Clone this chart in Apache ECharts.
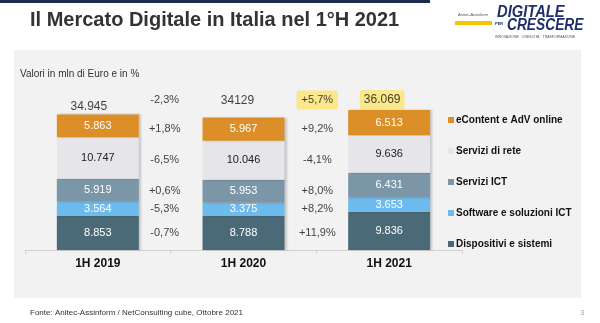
<!DOCTYPE html>
<html>
<head>
<meta charset="utf-8">
<script src="https://cdn.jsdelivr.net/npm/echarts@6/dist/echarts.min.js"></script>
<style>
  html, body { margin: 0; padding: 0; background: #ffffff; }
  #chart { width: 600px; height: 323px; }
</style>
</head>
<body>
<div id="chart"></div>
<script>
// Periods on the x axis
const periods = ['1H 2019', '1H 2020', '1H 2021'];

// Market segments, values in mln di Euro (stack order: bottom to top)
const dispositivi = [8853, 8788, 9836];
const software = [3564, 3375, 3653];
const serviziICT = [5919, 5953, 6431];
const serviziRete = [10747, 10046, 9636];
const eContent = [5863, 5967, 6513];

// Totals shown above each bar
const totalLabels = ['34.945', '34129', '36.069'];

// Year-on-year changes, top to bottom: total, eContent, rete, ICT, software, dispositivi
const change2020 = ['-2,3%', '+1,8%', '-6,5%', '+0,6%', '-5,3%', '-0,7%'];
const change2021 = ['+5,7%', '+9,2%', '-4,1%', '+8,0%', '+8,2%', '+11,9%'];

const seriesNames = ['Dispositivi e sistemi', 'Software e soluzioni ICT', 'Servizi ICT', 'Servizi di rete', 'eContent e AdV online'];
const seriesData = [dispositivi, software, serviziICT, serviziRete, eContent];
const colors = ['#4b6a77', '#6dbaec', '#7b96a7', '#e6e5ea', '#dc8f28'];
const labelColors = ['#ffffff', '#ffffff', '#ffffff', '#222222', '#ffffff'];

const fmt = v => {
  const s = String(v);
  return s.length > 3 ? s.slice(0, s.length - 3) + '.' + s.slice(s.length - 3) : s;
};

const totals = periods.map((_, i) => seriesData.reduce((a, s) => a + s[i], 0));

// Vertical anchors for the change labels: segment centres of the middle bar
function segmentCentres(i) {
  const out = [];
  let base = 0;
  seriesData.forEach(s => { out.push(base + s[i] / 2); base += s[i]; });
  return out.reverse(); // top to bottom
}
const mid = segmentCentres(1);
const changeY = [Math.max.apply(null, totals) + 2600].concat(mid);

const FONT = 'Liberation Sans, Arial, sans-serif';
const HIGHLIGHT = '#fde372';

const barSeries = seriesNames.map((name, k) => ({
  name,
  type: 'bar',
  stack: 'mercato',
  barWidth: 82,
  data: seriesData[k],
  itemStyle: {
    color: colors[k],
    shadowColor: 'rgba(0,0,0,0.18)',
    shadowOffsetX: 2,
    shadowBlur: 2
  },
  label: {
    show: true,
    position: 'inside',
    formatter: p => fmt(p.value),
    color: labelColors[k],
    fontSize: 11,
    fontFamily: FONT
  }
}));

// Totals above the bars
const totalStyle = [
  { distance: 2, offset: [-9, 0], box: false },
  { distance: 11, offset: [-6, 0], box: false },
  { distance: 0, offset: [-7, 0], box: true }
];
const totalSeries = {
  type: 'scatter',
  xAxisIndex: 0,
  symbolSize: 0,
  data: totals.map((t, i) => ({
    value: [periods[i], t],
    label: {
      show: true,
      formatter: totalLabels[i],
      position: 'top',
      distance: totalStyle[i].distance,
      offset: totalStyle[i].offset,
      color: '#111',
      fontSize: 12,
      fontFamily: FONT,
      backgroundColor: totalStyle[i].box ? HIGHLIGHT : 'transparent',
      borderRadius: 3,
      padding: totalStyle[i].box ? [4, 4, 4, 4] : 0
    }
  })),
  silent: true,
  z: 5
};

function changeSeries(labels, x, dx, boxFirst) {
  return {
    type: 'scatter',
    xAxisIndex: 1,
    symbolSize: 0,
    silent: true,
    data: labels.map((t, i) => ({
      value: [x, changeY[i]],
      label: {
        show: true,
        formatter: t,
        position: 'inside',
        offset: [dx, 0],
        color: '#111',
        fontSize: 11,
        fontFamily: FONT,
        backgroundColor: (boxFirst && i === 0) ? HIGHLIGHT : 'transparent',
        borderRadius: 3,
        padding: (boxFirst && i === 0) ? [4, 5, 4, 5] : 0
      }
    })),
    z: 5
  };
}

const chart = echarts.init(document.getElementById('chart'), null, { renderer: 'canvas' });

chart.setOption({
  animation: false,
  backgroundColor: '#ffffff',
  textStyle: { fontFamily: FONT },
  graphic: [
    { type: 'rect', shape: { x: 0, y: 0, width: 430, height: 3 }, style: { fill: '#1d2b4f' }, z: -10 },
    { type: 'rect', shape: { x: 14, y: 50, width: 567, height: 248 }, style: { fill: '#f2f2f2' }, z: -10 },
    { type: 'text', left: 30, top: 10, style: { text: 'Il Mercato Digitale in Italia nel 1°H 2021', fill: '#333333', font: 'bold 20px ' + FONT } },
    { type: 'text', left: 20, top: 69, style: { text: 'Valori in mln di Euro e in %', fill: '#333', font: '10px ' + FONT } },
    { type: 'text', left: 30, top: 309, style: { text: 'Fonte: Anitec-Assinform / NetConsulting cube, Ottobre 2021', fill: '#333', font: '8px ' + FONT } },
    { type: 'text', left: 580, top: 309, style: { text: '3', fill: '#aaa', font: '8px ' + FONT } },
    // header marks
    { type: 'text', left: 458, top: 13, style: { text: 'Anitec-Assinform', fill: '#555', font: '4px ' + FONT } },
    { type: 'rect', shape: { x: 455, y: 21, width: 37, height: 4 }, style: { fill: '#f3c400' } },
    { type: 'text', x: 497, y: 5, scaleX: 0.92, style: { text: 'DIGITALE', fill: '#1e2f6b', font: 'italic bold 16px ' + FONT } },
    { type: 'text', left: 495, top: 22, style: { text: 'PER', fill: '#1e2f6b', font: 'bold 4px ' + FONT } },
    { type: 'text', x: 507, y: 18, scaleX: 0.86, style: { text: 'CRESCERE', fill: '#1e2f6b', font: 'italic bold 16px ' + FONT } },
    { type: 'text', left: 495, top: 35, style: { text: 'INNOVAZIONE · CRESCITA · TRASFORMAZIONE', fill: '#555', font: '3.5px ' + FONT } }
  ],
  legend: {
    orient: 'vertical',
    left: 443,
    top: 110,
    itemWidth: 6,
    itemHeight: 6,
    itemGap: 21,
    icon: 'rect',
    data: ['eContent e AdV online', 'Servizi di rete', 'Servizi ICT', 'Software e soluzioni ICT', 'Dispositivi e sistemi'],
    textStyle: { color: '#111', fontSize: 10, fontWeight: 'bold', fontFamily: FONT, padding: [0, 0, 0, -3] }
  },
  grid: { left: 25, right: 138, top: 94.8, bottom: 73 },
  xAxis: [
    {
      type: 'category',
      data: periods,
      axisLine: { lineStyle: { color: '#d0d0d0' } },
      axisTick: { show: true, length: 4, lineStyle: { color: '#d0d0d0' } },
      axisLabel: { color: '#111', fontSize: 12, fontWeight: 'bold', fontFamily: FONT, margin: 8 }
    },
    { type: 'value', min: -0.5, max: 2.5, show: false }
  ],
  yAxis: { type: 'value', min: 0, max: 40000, show: false, splitLine: { show: false } },
  series: barSeries.concat([
    totalSeries,
    changeSeries(change2020, 0.5, -6, false),
    changeSeries(change2021, 1.5, 1, true)
  ])
});
</script>
</body>
</html>
